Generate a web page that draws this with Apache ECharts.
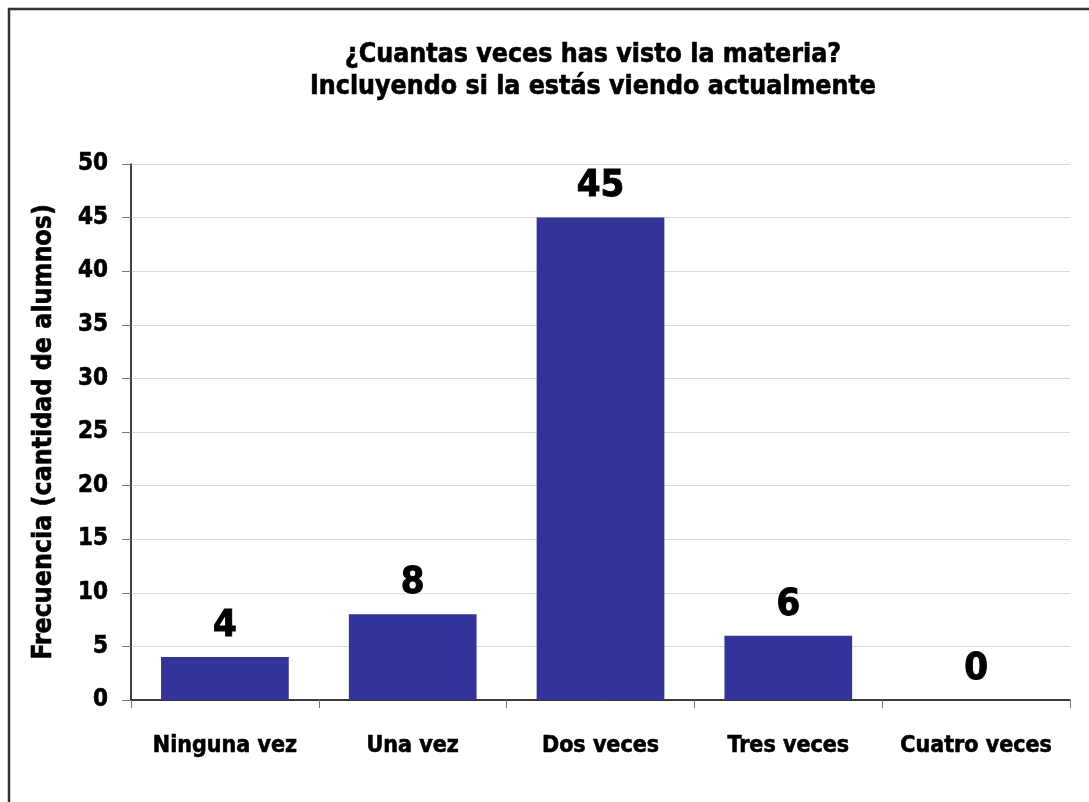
<!DOCTYPE html>
<html>
<head>
<meta charset="utf-8">
<script src="https://cdn.jsdelivr.net/npm/echarts@6/dist/echarts.min.js"></script>
<style>
html,body{margin:0;padding:0;background:#fff;}
#main{width:1089px;height:802px;}
</style>
</head>
<body>
<div id="main"></div>
<script>
const titleLines = ['¿Cuantas veces has visto la materia?', 'Incluyendo si la estás viendo actualmente'];
const categories = ['Ninguna vez', 'Una vez', 'Dos veces', 'Tres veces', 'Cuatro veces'];
const values = [4, 8, 45, 6, 0];
const yAxisTitle = 'Frecuencia (cantidad de alumnos)';

const FONT = '"DejaVu Sans Condensed", "DejaVu Sans", sans-serif';
const HEAVY = {textBorderColor: '#000', textBorderWidth: 0.6};
const chart = echarts.init(document.getElementById('main'), null, {renderer: 'canvas'});
chart.setOption({
  backgroundColor: '#ffffff',
  animation: false,
  title: {
    text: titleLines.join('\n'),
    left: 588,
    top: 34,
    textAlign: 'center',
    textStyle: Object.assign({fontFamily: FONT, fontWeight: 'bold', fontSize: 26.5, lineHeight: 32, color: '#000'}, HEAVY)
  },
  graphic: [{
    type: 'rect',
    shape: {x: 9, y: 9, width: 1300, height: 1000},
    style: {fill: 'none', stroke: '#333', lineWidth: 2.5},
    silent: true
  }],
  grid: {left: 131, top: 164, right: 19, bottom: 102},
  xAxis: {
    type: 'category',
    data: categories,
    axisLine: {lineStyle: {color: '#000', width: 1.5}},
    axisTick: {show: true, alignWithLabel: false, length: 8, lineStyle: {color: '#777'}},
    axisLabel: Object.assign({margin: 35, fontFamily: FONT, fontWeight: 'bold', fontSize: 23, color: '#000', interval: 0}, HEAVY)
  },
  yAxis: {
    type: 'value',
    min: 0, max: 50, interval: 5,
    name: yAxisTitle,
    nameLocation: 'middle',
    nameGap: 73,
    nameTextStyle: Object.assign({fontFamily: FONT, fontWeight: 'bold', fontSize: 26.5, color: '#000'}, HEAVY),
    axisLine: {show: true, lineStyle: {color: '#000', width: 1.5}},
    axisTick: {show: true, length: 9, lineStyle: {color: '#777'}},
    axisLabel: Object.assign({margin: 23, fontFamily: FONT, fontWeight: 'bold', fontSize: 24, color: '#000'}, HEAVY),
    splitLine: {show: true, lineStyle: {color: '#d9d9d9', width: 1}}
  },
  series: [{
    type: 'bar',
    data: values,
    barCategoryGap: '32%',
    itemStyle: {color: '#333399'},
    label: Object.assign({
      show: true, position: 'top', distance: 12,
      fontFamily: FONT, fontWeight: 'bold', fontSize: 38, color: '#000'
    }, {textBorderColor: '#000', textBorderWidth: 1})
  }]
});
</script>
</body>
</html>
